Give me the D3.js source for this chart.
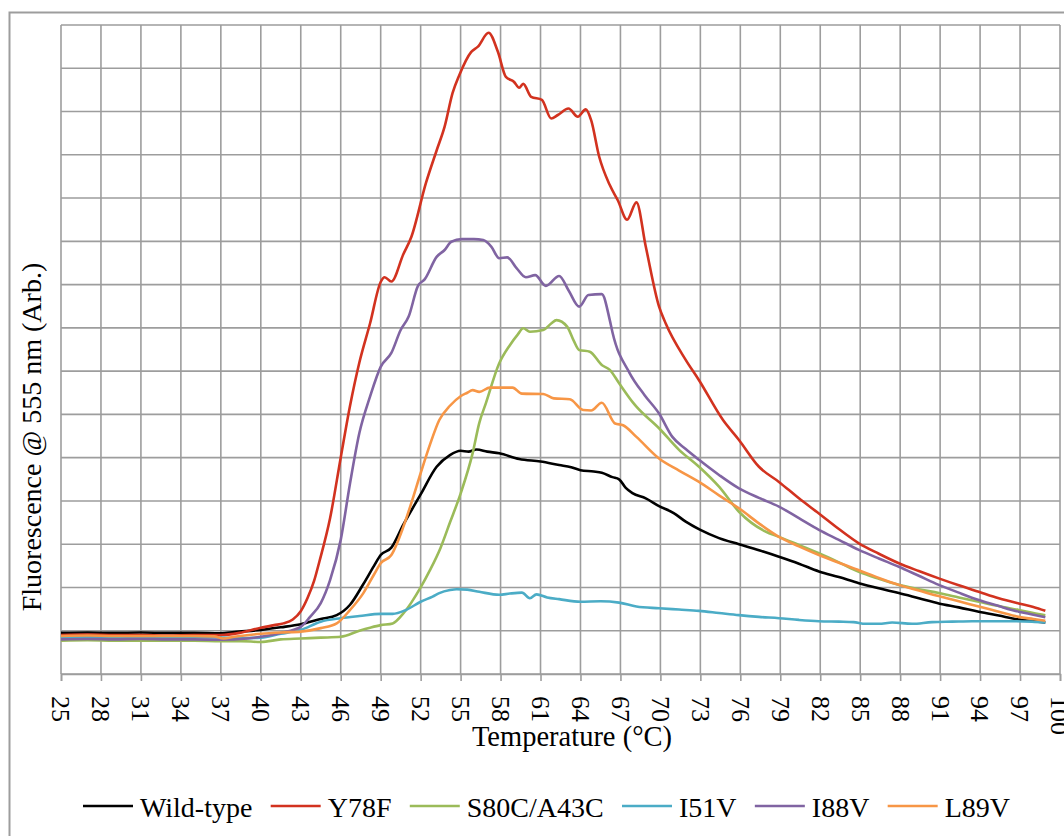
<!DOCTYPE html>
<html>
<head>
<meta charset="utf-8">
<script src="https://cdn.jsdelivr.net/npm/d3@7"></script>
<style>
  html, body { margin: 0; padding: 0; background: #fff; }
  svg { display: block; font-family: 'Liberation Serif', 'Times New Roman', serif; }
</style>
</head>
<body>
<div id="chart"></div>
<script>
// temperature ticks (°C), every 3 degrees
const tempTicks = [25, 28, 31, 34, 37, 40, 43, 46, 49, 52, 55, 58, 61, 64, 67, 70, 73, 76, 79, 82, 85, 88, 91, 94, 97, 100];
// unlabelled y grid levels (arbitrary fluorescence units)
const yGrid = [0, 1, 2, 3, 4, 5, 6, 7, 8, 9, 10, 11, 12, 13, 14, 15];

const seriesNames = ['Wild-type', 'Y78F', 'S80C/A43C', 'I51V', 'I88V', 'L89V'];
const seriesColors = ['#000000', '#d2321f', '#9bbb59', '#4bacc6', '#8064a2', '#f79646'];

// [temperature, fluorescence]
const wildType = [[25,0.95],[27,0.96],[29,0.95],[31,0.96],[33,0.95],[35,0.95],[37,0.94],[38,0.97],[40,1.02],[41.5,1.08],[43,1.15],[44.5,1.27],[45.7,1.36],[46.7,1.6],[47.7,2.08],[48.5,2.5],[49,2.75],[49.8,2.92],[50.7,3.45],[52,4.15],[53.2,4.79],[54.2,5.06],[55,5.16],[55.6,5.14],[56.2,5.19],[57,5.14],[57.9,5.1],[59.4,4.97],[61,4.91],[62.4,4.83],[63.3,4.78],[64,4.71],[65,4.68],[65.6,4.65],[66.4,4.55],[66.9,4.5],[67.4,4.3],[67.9,4.18],[68.9,4.06],[69.9,3.88],[71,3.72],[71.9,3.52],[73,3.33],[74.4,3.14],[75.9,3.0],[77.4,2.86],[78.9,2.71],[80.4,2.55],[81.9,2.37],[83.4,2.24],[84.9,2.1],[86.4,1.98],[87.9,1.87],[89.4,1.75],[90.9,1.63],[92.4,1.54],[93.9,1.44],[95.4,1.35],[96.9,1.26],[98,1.22],[98.9,1.19]];

const y78f = [[25,0.9],[27,0.91],[29,0.9],[31,0.9],[33,0.89],[35,0.9],[37,0.9],[38.4,0.95],[40,1.07],[41,1.13],[41.7,1.17],[42.4,1.26],[43,1.45],[43.5,1.75],[44,2.15],[44.4,2.6],[45.2,3.6],[46,5.0],[46.7,6.2],[47.4,7.2],[48.2,8.1],[49,9.06],[49.3,9.17],[49.8,9.07],[50.7,9.7],[51.3,10.1],[52.4,11.35],[53.2,12.1],[53.8,12.65],[54.4,13.43],[54.9,13.84],[55.8,14.38],[56.3,14.5],[57.1,14.82],[57.8,14.38],[58.4,13.8],[59,13.69],[59.4,13.55],[59.7,13.64],[60.3,13.34],[61.1,13.27],[61.8,12.84],[62.3,12.92],[63.1,13.07],[63.8,12.88],[64.4,13.05],[64.8,12.8],[65.4,11.96],[66.2,11.3],[66.8,10.95],[67.5,10.5],[68.2,10.9],[68.9,9.88],[69.9,8.49],[70.4,8.1],[71.9,7.26],[72.9,6.79],[74.7,5.87],[75.9,5.41],[77.4,4.79],[78.9,4.44],[80.4,4.06],[81.9,3.71],[83.4,3.35],[84.9,3.02],[86.4,2.78],[87.9,2.56],[89.4,2.38],[90.9,2.21],[92.4,2.05],[93.9,1.9],[95.4,1.75],[96.9,1.63],[98,1.55],[98.9,1.46]];

const s80c = [[25,0.77],[27,0.78],[29,0.77],[31,0.77],[33,0.77],[35,0.77],[37,0.76],[38.5,0.76],[40,0.74],[41.5,0.8],[43,0.82],[44.5,0.84],[46,0.86],[47.4,1.0],[48.2,1.07],[49,1.13],[49.9,1.17],[50.7,1.4],[51.3,1.65],[52,2.0],[52.7,2.4],[53.5,2.92],[54.2,3.5],[55,4.17],[55.9,5.1],[56.4,5.8],[56.9,6.26],[57.9,7.18],[58.7,7.6],[59.3,7.85],[59.7,7.99],[60.2,7.91],[61.2,7.95],[61.8,8.1],[62.2,8.18],[63,8.03],[63.5,7.7],[63.9,7.49],[64.7,7.45],[65.6,7.14],[66.2,7.03],[66.9,6.72],[67.9,6.29],[68.2,6.18],[69.9,5.68],[71.4,5.18],[72.9,4.79],[74.4,4.33],[75.9,3.75],[77.9,3.29],[78.9,3.17],[80.4,2.98],[81.9,2.79],[83.4,2.58],[84.9,2.36],[86.4,2.2],[87.9,2.06],[89.4,1.96],[90.9,1.87],[92.4,1.77],[93.9,1.67],[95.4,1.57],[96.9,1.48],[98,1.41],[98.9,1.36]];

const i51v = [[25,0.85],[27,0.85],[29,0.86],[31,0.85],[33,0.85],[35,0.85],[37,0.84],[38.5,0.83],[40,0.84],[41.5,0.93],[43,1.02],[44.5,1.21],[46,1.29],[47.4,1.34],[49,1.39],[49.9,1.39],[50.9,1.48],[52,1.67],[52.9,1.79],[53.4,1.87],[54.2,1.94],[54.7,1.96],[55.5,1.95],[56.4,1.9],[57.9,1.83],[58.7,1.86],[59.6,1.88],[60.2,1.75],[60.7,1.84],[61.5,1.77],[62.4,1.73],[64,1.67],[65.5,1.68],[66.9,1.65],[68.2,1.56],[69.9,1.52],[71.4,1.49],[72.9,1.46],[74.4,1.41],[75.9,1.36],[77.4,1.32],[78.9,1.29],[80.4,1.25],[81.9,1.22],[83.4,1.21],[84.5,1.2],[85.4,1.16],[86.4,1.16],[87.4,1.19],[88.9,1.16],[90.4,1.2],[91.9,1.21],[93.4,1.22],[94.9,1.22],[96.4,1.22],[97.9,1.21],[98.9,1.19]];

const i88v = [[25,0.8],[27,0.81],[29,0.8],[31,0.81],[33,0.8],[35,0.8],[37,0.79],[39,0.82],[40,0.86],[41.5,0.95],[43,1.09],[43.7,1.32],[44.5,1.64],[45.2,2.17],[46,3.1],[46.7,4.41],[47.4,5.57],[48.2,6.41],[49,7.1],[49.8,7.42],[50.5,7.95],[51.1,8.26],[51.8,8.97],[52.3,9.12],[53.2,9.64],[53.8,9.8],[54.3,9.99],[55.1,10.05],[56,10.05],[56.7,10.03],[57.3,9.88],[57.9,9.61],[58.5,9.63],[59.2,9.38],[59.9,9.17],[60.6,9.22],[61.4,8.97],[62.4,9.2],[63.1,8.87],[63.9,8.49],[64.6,8.76],[65.6,8.78],[66.2,8.18],[66.4,7.9],[67.7,6.95],[68.8,6.45],[69.9,6.02],[70.9,5.48],[71.9,5.2],[72.9,4.95],[74.4,4.6],[75.9,4.29],[77.4,4.07],[78.9,3.87],[80.4,3.6],[81.9,3.33],[83.4,3.1],[84.9,2.87],[86.4,2.67],[87.9,2.48],[89.4,2.27],[90.9,2.06],[92.4,1.88],[93.9,1.71],[95.4,1.57],[96.9,1.44],[98,1.37],[98.9,1.31]];

const l89v = [[25,0.88],[27,0.89],[29,0.88],[31,0.88],[33,0.88],[35,0.88],[36.5,0.87],[37.2,0.82],[38,0.86],[40,0.93],[41.5,0.96],[43,0.98],[44.5,1.06],[45.7,1.17],[46.7,1.48],[47.7,1.87],[48.5,2.3],[49,2.56],[49.8,2.75],[50.7,3.4],[51.3,3.95],[52,4.64],[52.7,5.3],[53.4,5.87],[54.2,6.2],[55,6.42],[55.5,6.5],[55.9,6.56],[56.4,6.52],[57.2,6.62],[58.9,6.62],[59.6,6.48],[61.2,6.47],[62,6.37],[63.2,6.35],[64.2,6.1],[64.8,6.09],[65.6,6.27],[66.6,5.79],[67.2,5.75],[68.2,5.48],[69.9,4.98],[71.4,4.7],[72.9,4.44],[74.4,4.13],[75.9,3.83],[77.4,3.48],[78.9,3.17],[80.4,2.95],[81.9,2.75],[83.4,2.57],[84.9,2.4],[86.4,2.22],[87.9,2.06],[89.4,1.93],[90.9,1.8],[92.4,1.68],[93.9,1.56],[95.4,1.44],[96.9,1.32],[98,1.27],[98.9,1.23]];

const allSeries = [wildType, y78f, s80c, i51v, i88v, l89v];

const width = 1064;
const height = 836;
const plot = { left: 61, right: 1060, top: 25, bottom: 674 };
const gridColor = '#9d9d9d';

const svg = d3.select('#chart')
  .append('svg')
  .attr('width', width)
  .attr('height', height);

// outer chart border (runs off the right / bottom edge)
svg.append('rect')
  .attr('x', 9.5).attr('y', 12.5)
  .attr('width', 1100).attr('height', 900)
  .attr('fill', 'none')
  .attr('stroke', gridColor)
  .attr('stroke-width', 2);

const xScale = d3.scaleLinear().domain([25, 100]).range([plot.left, plot.right]);
const yScale = d3.scaleLinear().domain([0, 15]).range([plot.bottom, plot.top]);

// Gridlines
const grid = svg.append('g').attr('class', 'gridlines');
grid.selectAll('line.h')
  .data(yGrid)
  .join('line')
  .attr('class', 'h')
  .attr('x1', plot.left).attr('x2', plot.right)
  .attr('y1', (d) => yScale(d)).attr('y2', (d) => yScale(d))
  .attr('stroke', gridColor).attr('stroke-width', 1.6);

grid.selectAll('line.v')
  .data(tempTicks)
  .join('line')
  .attr('class', 'v')
  .attr('x1', (d) => xScale(d)).attr('x2', (d) => xScale(d))
  .attr('y1', plot.top).attr('y2', plot.bottom)
  .attr('stroke', gridColor).attr('stroke-width', 1.6);

// x axis: ticks below, labels rotated
const xAxis = d3.axisBottom(xScale)
  .tickValues(tempTicks)
  .tickSize(7)
  .tickPadding(0)
  .tickFormat(d3.format('d'));

const gx = svg.append('g')
  .attr('transform', `translate(0, ${plot.bottom})`)
  .call(xAxis);
gx.select('.domain').attr('stroke', gridColor).attr('stroke-width', 1.6);
gx.selectAll('.tick line').attr('stroke', gridColor).attr('stroke-width', 1.6);
gx.selectAll('.tick text')
  .attr('y', 0).attr('x', 0).attr('dy', '0.35em')
  .attr('transform', 'translate(0, 22) rotate(90)')
  .style('text-anchor', 'start')
  .style('font-family', "'Liberation Serif', serif")
  .style('font-size', '26px')
  .attr('fill', '#000');

// Series lines
const line = d3.line()
  .x((d) => xScale(d[0]))
  .y((d) => yScale(d[1]))
  .curve(d3.curveMonotoneX);

svg.append('g').attr('class', 'series')
  .selectAll('path')
  .data(allSeries)
  .join('path')
  .attr('d', line)
  .attr('fill', 'none')
  .attr('stroke', (d, i) => seriesColors[i])
  .attr('stroke-width', 2.6)
  .attr('stroke-linejoin', 'round');

// Axis titles
svg.append('text')
  .attr('x', 572)
  .attr('y', 746)
  .attr('text-anchor', 'middle')
  .style('font-size', '28.5px')
  .text('Temperature (°C)');

svg.append('text')
  .attr('transform', 'translate(41, 437) rotate(-90)')
  .attr('text-anchor', 'middle')
  .style('font-size', '28px')
  .text('Fluorescence @ 555 nm (Arb.)');

// Legend
const legend = svg.append('g').attr('class', 'legend');
const legendStart = 83;
const legendEnd = 1010;
const swatch = 50;
const swatchGap = 7;

const items = legend.selectAll('g')
  .data(seriesNames)
  .join('g');
items.append('line')
  .attr('x1', 0).attr('x2', swatch)
  .attr('y1', 806).attr('y2', 806)
  .attr('stroke', (d, i) => seriesColors[i])
  .attr('stroke-width', 2.6);
items.append('text')
  .attr('x', swatch + swatchGap)
  .attr('y', 817)
  .style('font-size', '28px')
  .text((d) => d);

const widths = [];
items.each(function () {
  widths.push(swatch + swatchGap + d3.select(this).select('text').node().getComputedTextLength());
});
const spacing = (legendEnd - legendStart - d3.sum(widths)) / (widths.length - 1);
let cursor = legendStart;
items.attr('transform', (d, i) => {
  const t = `translate(${cursor}, 0)`;
  cursor += widths[i] + spacing;
  return t;
});
</script>
</body>
</html>
